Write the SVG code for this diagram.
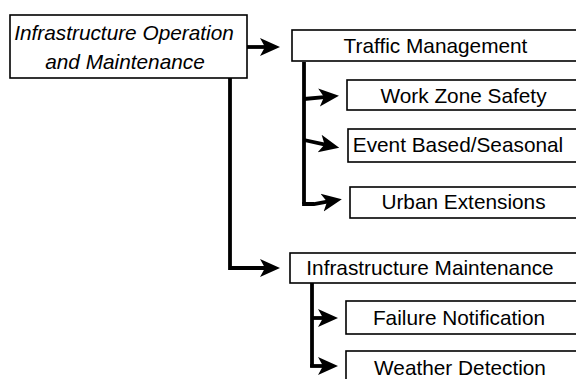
<svg xmlns="http://www.w3.org/2000/svg" width="576" height="379" viewBox="0 0 576 379">
<style>
.box{fill:#fff;stroke:#000;stroke-width:1.6}
.t{font-family:"Liberation Sans",Arial,sans-serif;font-size:20.8px;fill:#000;text-anchor:middle}
.i{font-style:italic}
.c{fill:none;stroke:#000;stroke-width:3.8;stroke-linejoin:miter;marker-end:url(#ah)}
.p{fill:none;stroke:#000;stroke-width:3.8}
</style>
<defs>
<marker id="ah" markerUnits="userSpaceOnUse" markerWidth="24" markerHeight="22" viewBox="0 -11 24 22" refX="8" refY="0" orient="auto">
<path d="M0,-9 L20,0 L0,9 L5,0 Z" fill="#000"/>
</marker>
</defs>
<rect width="576" height="379" fill="#fff"/>
<g id="connectors">
<path class="c" d="M247,47 H268"/>
<path class="c" d="M230,77 V268 H268"/>
<path class="p" d="M304,62 V204"/>
<path class="c" d="M304,99 L327,96.8"/>
<path class="c" d="M304,140 L327.5,145.2"/>
<path class="c" d="M302.1,204 H314 L330,201.2"/>
<path class="p" d="M312,283 V367"/>
<path class="c" d="M312,318 H326"/>
<path class="c" d="M310.1,366 H326"/>
</g>
<g id="n-main">
<rect class="box" x="10" y="15" width="237" height="63"/>
<text class="t i" x="124" y="40">Infrastructure Operation</text>
<text class="t i" x="125" y="69">and Maintenance</text>
</g>
<g id="n-traffic">
<rect class="box" x="292" y="30" width="300" height="31"/>
<text class="t" x="435.5" y="53">Traffic Management</text>
</g>
<g id="n-workzone">
<rect class="box" x="347" y="80" width="250" height="30"/>
<text class="t" x="463.5" y="103">Work Zone Safety</text>
</g>
<g id="n-event">
<rect class="box" x="348" y="129" width="250" height="33"/>
<text class="t" x="458" y="152">Event Based/Seasonal</text>
</g>
<g id="n-urban">
<rect class="box" x="350" y="187" width="250" height="31"/>
<text class="t" x="463.5" y="209">Urban Extensions</text>
</g>
<g id="n-infra">
<rect class="box" x="290" y="253" width="300" height="30"/>
<text class="t" x="430" y="275">Infrastructure Maintenance</text>
</g>
<g id="n-failure">
<rect class="box" x="346" y="301" width="250" height="33"/>
<text class="t" x="459" y="325">Failure Notification</text>
</g>
<g id="n-weather">
<rect class="box" x="346" y="351" width="250" height="50"/>
<text class="t" x="460" y="375">Weather Detection</text>
</g>
</svg>
